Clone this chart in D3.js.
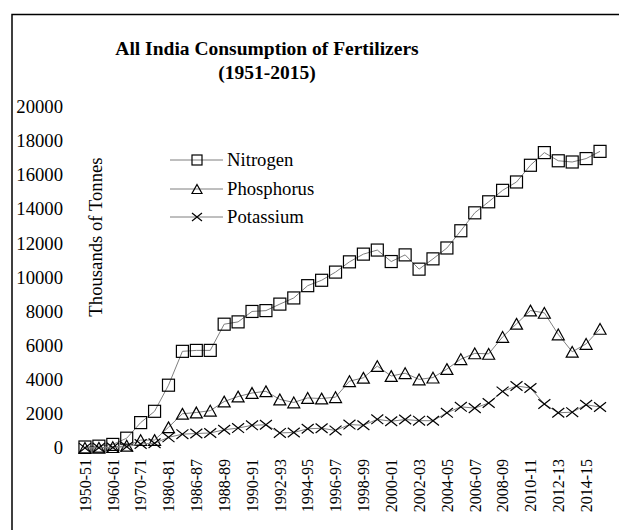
<!DOCTYPE html>
<html>
<head>
<meta charset="utf-8">
<script src="https://cdn.jsdelivr.net/npm/d3@7"></script>
<style>
  body { margin: 0; background: #fff; }
</style>
</head>
<body>
<script>
// years on the category axis
var years = ["1950-51","1955-56","1960-61","1965-66","1970-71","1975-76","1980-81","1985-86",
  "1986-87","1987-88","1988-89","1989-90","1990-91","1991-92","1992-93","1993-94","1994-95",
  "1995-96","1996-97","1997-98","1998-99","1999-00","2000-01","2001-02","2002-03","2003-04",
  "2004-05","2005-06","2006-07","2007-08","2008-09","2009-10","2010-11","2011-12","2012-13",
  "2013-14","2014-15","2015-16"];

// thousands of tonnes
var nitrogen = [59,108,210,575,1487,2149,3678,5661,5716,5717,7251,7386,7997,8046,8427,8788,9507,
  9823,10302,10902,11354,11593,10920,11310,10474,11077,11714,12723,13773,14419,15090,15580,
  16558,17300,16821,16750,16950,17372];
var phosphorus = [7,13,53,133,462,467,1214,2005,2079,2187,2721,3014,3221,3321,2844,2669,2932,
  2898,2977,3914,4112,4798,4215,4382,4019,4124,4624,5204,5543,5515,6506,7274,8050,7914,6653,
  5633,6098,6979];
var potassium = [6,10,29,77,236,278,624,808,850,880,1068,1168,1328,1361,884,908,1125,1156,1030,
  1373,1332,1678,1567,1667,1601,1598,2061,2413,2335,2636,3313,3632,3514,2575,2062,2099,2532,2402];

var yTicks = [0,2000,4000,6000,8000,10000,12000,14000,16000,18000,20000];

var series = [
  {name: "Nitrogen", values: nitrogen, shape: "square"},
  {name: "Phosphorus", values: phosphorus, shape: "triangle"},
  {name: "Potassium", values: potassium, shape: "cross"}
];

var FONT = "'Liberation Serif'";
var W = 619, H = 530;
var svg = d3.select("body").append("svg").attr("width", W).attr("height", H);

// outer frame (runs off the right and bottom edges)
svg.append("rect").attr("x", 12).attr("y", 14.5).attr("width", 640).attr("height", 560)
  .attr("fill", "none").attr("stroke", "#000").attr("stroke-width", 1.5);

var x = d3.scalePoint().domain(years).range([78, 607]).padding(0.5);
var y = d3.scaleLinear().domain([0, 20000]).range([448, 106.5]);

// title
svg.append("text").attr("x", 267).attr("y", 55).attr("text-anchor", "middle")
  .style("font-family", FONT).style("font-size", "19.5px").style("font-weight", "bold")
  .text("All India Consumption of Fertilizers");
svg.append("text").attr("x", 267).attr("y", 79).attr("text-anchor", "middle")
  .style("font-family", FONT).style("font-size", "19.5px").style("font-weight", "bold")
  .text("(1951-2015)");

// y axis labels
var yAxis = d3.axisLeft(y).tickValues(yTicks).tickSize(0).tickPadding(0).tickFormat(d3.format("d"));
var gy = svg.append("g").attr("transform", "translate(63,0)").call(yAxis);
gy.select(".domain").remove();
gy.selectAll("text").style("font-size", "18.7px").style("font-family", FONT).attr("fill", "#000");

// x axis labels, every other year
var xAxis = d3.axisBottom(x).tickValues(years.filter(function(d, i) { return i % 2 == 0; }))
  .tickSize(0);
var gx = svg.append("g").attr("transform", "translate(0,459)").call(xAxis);
gx.select(".domain").remove();
gx.selectAll("text")
  .attr("transform", "rotate(-90)")
  .attr("x", 0).attr("y", 0).attr("dy", "0.33em")
  .attr("text-anchor", "end").attr("fill", "#000")
  .style("font-size", "16px").style("font-family", FONT);

// y title
svg.append("text").attr("transform", "translate(102,237) rotate(-90)")
  .attr("text-anchor", "middle").style("font-size", "18.7px").style("font-family", FONT)
  .text("Thousands of Tonnes");

function marker(g, shape, s) {
  if (shape == "square") {
    g.append("rect").attr("x", -s/2).attr("y", -s/2).attr("width", s).attr("height", s)
      .attr("fill", "none").attr("stroke", "#000").attr("stroke-width", 1.2);
  } else if (shape == "triangle") {
    var h = s * 0.9;
    g.append("path").attr("d", "M0," + (-h/2) + "L" + (s/2) + "," + (h/2) + "L" + (-s/2) + "," + (h/2) + "Z")
      .attr("fill", "none").attr("stroke", "#000").attr("stroke-width", 1.2);
  } else {
    var r = s / 2;
    g.append("path").attr("d", "M" + (-r) + "," + (-r*0.8) + "L" + r + "," + (r*0.8) + "M" + (-r) + "," + (r*0.8) + "L" + r + "," + (-r*0.8))
      .attr("fill", "none").attr("stroke", "#000").attr("stroke-width", 1.2);
  }
}

var line = d3.line().x(function(d, i) { return x(years[i]); }).y(function(d) { return y(d); });

series.forEach(function(s) {
  svg.append("path").datum(s.values).attr("d", line)
    .attr("fill", "none").attr("stroke", "#7f7f7f").attr("stroke-width", 1);
  svg.append("g").selectAll("g").data(s.values).join("g")
    .attr("transform", function(d, i) { return "translate(" + x(years[i]) + "," + y(d) + ")"; })
    .each(function() { marker(d3.select(this), s.shape, 12); });
});

// legend
var legY = [160, 189, 217];
series.forEach(function(s, i) {
  var g = svg.append("g").attr("transform", "translate(0," + legY[i] + ")");
  g.append("line").attr("x1", 170).attr("x2", 223).attr("y1", 0).attr("y2", 0)
    .attr("stroke", "#7f7f7f").attr("stroke-width", 1);
  var m = g.append("g").attr("transform", "translate(197,0)");
  marker(m, s.shape, 10);
  g.append("text").attr("x", 227).attr("y", 0).attr("dy", "0.33em")
    .style("font-family", FONT).style("font-size", "18.7px").text(s.name);
});
</script>
</body>
</html>
